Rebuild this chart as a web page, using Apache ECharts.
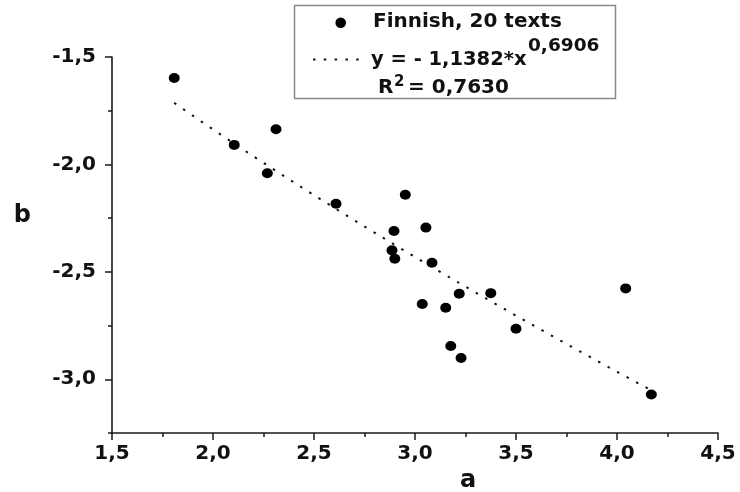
<!DOCTYPE html>
<html>
<head>
<meta charset="utf-8">
<script src="https://cdn.jsdelivr.net/npm/echarts@6/dist/echarts.min.js"></script>
<style>
  html, body { margin: 0; padding: 0; background: #fff; }
  #chart { width: 740px; height: 492px; }
</style>
</head>
<body>
<div id="chart"></div>
<script>
// Finnish texts: parameter a vs parameter b
const aValues = [1.808, 2.105, 2.312, 2.269, 2.609, 2.952, 2.896, 3.054, 2.886, 2.900,
                 3.084, 3.219, 3.375, 3.036, 3.152, 3.500, 3.177, 3.228, 4.043, 4.170];
const bValues = [-1.598, -1.909, -1.836, -2.041, -2.183, -2.141, -2.310, -2.294, -2.400, -2.439,
                 -2.458, -2.602, -2.599, -2.650, -2.667, -2.765, -2.845, -2.901, -2.577, -3.071];

// power fit y = k * x^p, as printed in the legend
const fitK = -1.1382;
const fitP = 0.6906;
const rSquared = '0,7630';

const xTicks = [1.5, 2.0, 2.5, 3.0, 3.5, 4.0, 4.5];
const yTicks = [-3.0, -2.5, -2.0, -1.5];

const FONT = '"DejaVu Sans", sans-serif';
const INK = '#111';
const fmt = v => Number(v).toFixed(1).replace('.', ',');

const points = aValues.map((a, i) => [a, bValues[i]]);

// sample the fitted curve across the data range
const xLo = Math.min(...aValues), xHi = Math.max(...aValues);
const fitLine = [];
const steps = 40;
for (let i = 0; i <= steps; i++) {
  const x = xLo + (xHi - xLo) * i / steps;
  fitLine.push([x, fitK * Math.pow(x, fitP)]);
}

const chart = echarts.init(document.getElementById('chart'), null, { renderer: 'canvas' });

const axisLine = { show: true, lineStyle: { color: '#1a1a1a', width: 1.6 } };

chart.setOption({
  animation: false,
  backgroundColor: '#fff',
  grid: { left: 112, right: 22, top: 57, bottom: 59, containLabel: false, outerBoundsMode: 'none' },
  xAxis: {
    type: 'value',
    min: 1.5, max: 4.5, interval: 0.5,
    name: 'a',
    nameLocation: 'middle',
    nameGap: 34,
    nameTextStyle: { fontFamily: FONT, fontWeight: 'bold', fontSize: 24, color: INK, padding: [0, 0, 0, 106] },
    axisLine: axisLine,
    axisTick: { show: true, inside: false, length: 7, lineStyle: { color: '#1a1a1a', width: 1.5 } },
    minorTick: { show: true, splitNumber: 2, length: 4, lineStyle: { color: '#1a1a1a', width: 1.5 } },
    splitLine: { show: false },
    axisLabel: { margin: 11, fontFamily: FONT, fontWeight: 'bold', fontSize: 20, color: INK, formatter: fmt,
                 customValues: xTicks }
  },
  yAxis: [{
    type: 'value',
    min: -3.25, max: -1.5, interval: 0.25,
    name: 'b',
    nameLocation: 'middle',
    nameRotate: 0,
    nameGap: 81,
    // bottom-anchored tall line box lifts the title above the axis centre
    nameTextStyle: { fontFamily: FONT, fontWeight: 'bold', fontSize: 24, color: INK,
                     verticalAlign: 'bottom', lineHeight: 58 },
    axisLine: axisLine,
    axisTick: { show: true, inside: false, length: 7, customValues: yTicks, lineStyle: { color: '#1a1a1a', width: 1.5 } },
    splitLine: { show: false },
    axisLabel: { margin: 16, fontFamily: FONT, fontWeight: 'bold', fontSize: 20, color: INK, formatter: fmt,
                 customValues: yTicks }
  }, {
    // minor ticks every 0.25 on the same scale
    type: 'value',
    position: 'left',
    min: -3.25, max: -1.5, interval: 0.25,
    axisLine: { show: false },
    axisTick: { show: true, inside: false, length: 4, lineStyle: { color: '#1a1a1a', width: 1.5 } },
    splitLine: { show: false },
    axisLabel: { show: false }
  }],
  series: [{
    name: 'fit',
    type: 'line',
    data: fitLine,
    showSymbol: false,
    symbol: 'none',
    smooth: false,
    z: 2,
    lineStyle: { color: '#111', width: 2, type: [2.5, 8.3] }
  }, {
    name: 'Finnish, 20 texts',
    type: 'scatter',
    data: points,
    symbol: 'circle',
    symbolSize: [11, 10],
    z: 3,
    itemStyle: { color: '#000', opacity: 1 }
  }],
  graphic: [{
    type: 'group',
    children: [
      { type: 'rect', shape: { x: 294.5, y: 5.5, width: 321, height: 93 },
        style: { fill: '#fff', stroke: '#8a8a8a', lineWidth: 1.5 } },
      { type: 'circle', shape: { cx: 340.7, cy: 22.7, r: 5.3 }, style: { fill: '#000' } },
      { type: 'text', x: 373, y: 22, style: { text: 'Finnish, 20 texts', font: 'bold 20px ' + FONT, fill: INK, verticalAlign: 'middle' } },
      { type: 'line', shape: { x1: 313, y1: 59.5, x2: 359, y2: 59.5 },
        style: { stroke: '#111', lineWidth: 2, lineDash: [2.5, 8.3] } },
      { type: 'text', x: 371, y: 60, style: { text: 'y = - 1,1382*x', font: 'bold 19.5px ' + FONT, fill: INK, verticalAlign: 'middle' } },
      { type: 'text', x: 528, y: 46, style: { text: '0,6906', font: 'bold 18.5px ' + FONT, fill: INK, verticalAlign: 'middle' } },
      { type: 'text', x: 378, y: 88, style: { text: 'R', font: 'bold 20px ' + FONT, fill: INK, verticalAlign: 'middle' } },
      { type: 'text', x: 394, y: 82, style: { text: '2', font: 'bold 15px ' + FONT, fill: INK, verticalAlign: 'middle' } },
      { type: 'text', x: 408, y: 87.5, style: { text: '= ' + rSquared, font: 'bold 20px ' + FONT, fill: INK, verticalAlign: 'middle' } }
    ]
  }]
});
</script>
</body>
</html>
